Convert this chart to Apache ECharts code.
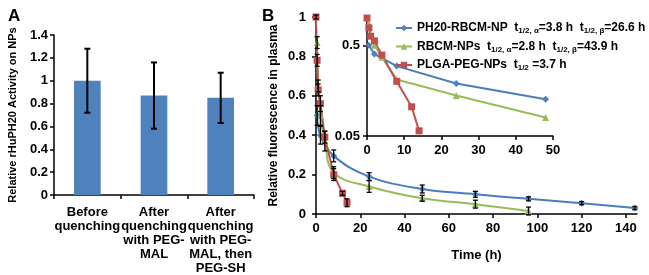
<!DOCTYPE html>
<html>
<head>
<meta charset="utf-8">
<script src="https://cdn.jsdelivr.net/npm/echarts@6/dist/echarts.min.js"></script>
<style>
html, body { margin: 0; padding: 0; background: #fff; }
#chart { width: 649px; height: 275px; }
</style>
</head>
<body>
<div id="chart"></div>
<script>
// panel A
var barCats = ['Before\nquenching', 'After\nquenching\nwith PEG-\nMAL', 'After\nquenching\nwith PEG-\nMAL, then\nPEG-SH'];
var barVals = [1.0, 0.87, 0.85];
var barErr = [0.28, 0.29, 0.22];

// panel B (time in h, relative fluorescence)
var blueT = [0.5, 2, 8, 24, 48, 72, 96, 120, 144];
var blueY = [0.5, 0.4, 0.295, 0.19, 0.127, 0.1, 0.077, 0.055, 0.03];
var blueE = [0.05, 0.045, 0.03, 0.02, 0.02, 0.015, 0.01, 0.008, 0.008];
var greenT = [0.5, 1, 2, 4, 8, 24, 48, 72, 96];
var greenY = [0.87, 0.65, 0.5, 0.37, 0.21, 0.14, 0.08, 0.05, 0.015];
var greenE = [0.03, 0.03, 0.05, 0.05, 0.03, 0.03, 0.015, 0.02, 0.02];
var redT = [0, 0.5, 1, 2, 4, 8, 12, 14];
var redY = [1, 0.78, 0.63, 0.56, 0.39, 0.2, 0.105, 0.057];
var redE = [0.01, 0.03, 0.03, 0.04, 0.03, 0.03, 0.01, 0.02];
var insetTicks = [0.05, 0.5];

var names = ['PH20-RBCM-NP', 'RBCM-NPs', 'PLGA-PEG-NPs'];
var legendText = {
    'PH20-RBCM-NP': 'PH20-RBCM-NP  t{s|1/2, α}=3.8 h  t{s|1/2, β}=26.6 h',
    'RBCM-NPs': 'RBCM-NPs  t{s|1/2, α}=2.8 h  t{s|1/2, β}=43.9 h',
    'PLGA-PEG-NPs': 'PLGA-PEG-NPs  t{s|1/2} =3.7 h'
};

var font = 'Arial, "Liberation Sans", sans-serif';
var blue = '#4A7EBB', green = '#9BBB59', red = '#C0504D';

var chart = echarts.init(document.getElementById('chart'));

function pairs(t, y) {
    return t.map(function (x, i) { return [x, y[i]]; });
}
function errs(t, y, e) {
    return t.map(function (x, i) { return [x, y[i] - e[i], y[i] + e[i]]; });
}
// draws a vertical error bar with caps
function errBar(half, width) {
    return function (params, api) {
        var x = api.value(0);
        var top = api.coord([x, api.value(2)]);
        var bot = api.coord([x, api.value(1)]);
        var st = { stroke: '#000', lineWidth: width };
        return {
            type: 'group',
            children: [
                { type: 'line', shape: { x1: top[0], y1: top[1], x2: bot[0], y2: bot[1] }, style: st },
                { type: 'line', shape: { x1: top[0] - half, y1: top[1], x2: top[0] + half, y2: top[1] }, style: st },
                { type: 'line', shape: { x1: bot[0] - half, y1: bot[1], x2: bot[0] + half, y2: bot[1] }, style: st }
            ]
        };
    };
}

var lbl = { color: '#000', fontWeight: 'bold', fontSize: 13, fontFamily: font };
var axLine = { lineStyle: { color: '#000', width: 1.5 } };
var ticks = { show: true, inside: false, length: 4, lineStyle: { color: '#000', width: 1.5 } };

option = {
    backgroundColor: '#fff',
    animation: false,
    textStyle: { fontFamily: font },
    title: [
        { text: 'A', left: 3, top: 3, textStyle: { fontSize: 17, fontWeight: 'bold', color: '#000', fontFamily: font } },
        { text: 'B', left: 257, top: 3, textStyle: { fontSize: 17, fontWeight: 'bold', color: '#000', fontFamily: font } }
    ],
    legend: {
        data: names,
        orient: 'vertical',
        left: 390,
        top: 15,
        itemGap: 2.5,
        itemWidth: 16,
        itemHeight: 8,
        formatter: function (n) { return legendText[n]; },
        textStyle: {
            color: '#000', fontWeight: 'bold', fontSize: 12, fontFamily: font, lineHeight: 16,
            rich: {
                s: { fontSize: 8, fontWeight: 'bold', fontFamily: font, color: '#000', padding: [6, 0, 0, 0] }
            }
        }
    },
    grid: [
        { left: 54, right: 395, top: 35, bottom: 80 },
        { left: 316, right: 12, top: 17, bottom: 61 },
        { left: 367, right: 96, top: 18, bottom: 139 }
    ],
    xAxis: [
        {
            gridIndex: 0, type: 'category', data: barCats,
            axisLine: axLine, axisTick: ticks,
            axisLabel: Object.assign({ interval: 0, margin: 10, lineHeight: 14 }, lbl)
        },
        {
            gridIndex: 1, type: 'value', min: 0, max: 145, interval: 20,
            name: 'Time (h)', nameLocation: 'middle', nameGap: 35,
            nameTextStyle: lbl,
            splitLine: { show: false },
            axisLine: axLine, axisTick: ticks,
            axisLabel: Object.assign({ margin: 8, showMaxLabel: false }, lbl)
        },
        {
            gridIndex: 2, type: 'value', min: 0, max: 50, interval: 10,
            splitLine: { show: false },
            axisLine: axLine, axisTick: ticks,
            axisLabel: Object.assign({ margin: 8 }, lbl)
        }
    ],
    yAxis: [
        {
            gridIndex: 0, type: 'value', min: 0, max: 1.4, interval: 0.2,
            name: 'Relative rHuPH20 Activity on NPs', nameLocation: 'middle', nameGap: 36,
            nameTextStyle: Object.assign({}, lbl, { fontSize: 11 }),
            splitLine: { show: false },
            axisLine: Object.assign({ show: true }, axLine), axisTick: ticks,
            axisLabel: Object.assign({ margin: 6 }, lbl)
        },
        {
            gridIndex: 1, type: 'value', min: 0, max: 1, interval: 0.2,
            name: 'Relative fluorescence in plasma', nameLocation: 'middle', nameGap: 36,
            nameTextStyle: Object.assign({}, lbl, { fontSize: 12 }),
            splitLine: { show: false },
            axisLine: Object.assign({ show: true }, axLine), axisTick: ticks,
            axisLabel: Object.assign({ margin: 10 }, lbl)
        },
        {
            gridIndex: 2, type: 'log', min: 0.05, max: 1,
            splitLine: { show: false },
            axisLine: Object.assign({ show: true }, axLine),
            axisTick: Object.assign({ customValues: insetTicks }, ticks),
            axisLabel: Object.assign({ margin: 7, customValues: insetTicks }, lbl)
        }
    ],
    series: [
        {
            type: 'bar', xAxisIndex: 0, yAxisIndex: 0, data: barVals,
            barWidth: '40%', itemStyle: { color: '#4F81BD' }
        },
        {
            type: 'custom', xAxisIndex: 0, yAxisIndex: 0, z: 5,
            renderItem: errBar(3, 2),
            data: barVals.map(function (v, i) { return [i, v - barErr[i], v + barErr[i]]; })
        },
        // main panel B
        {
            name: names[0], type: 'line', xAxisIndex: 1, yAxisIndex: 1, data: pairs(blueT, blueY),
            smooth: 0.4, symbol: 'diamond', symbolSize: 7, color: blue,
            lineStyle: { width: 2, color: blue }, itemStyle: { color: '#4F81BD' }
        },
        {
            name: names[1], type: 'line', xAxisIndex: 1, yAxisIndex: 1, data: pairs(greenT, greenY),
            smooth: 0.4, symbol: 'triangle', symbolSize: 7, color: green,
            lineStyle: { width: 2, color: green }, itemStyle: { color: green }
        },
        {
            name: names[2], type: 'line', xAxisIndex: 1, yAxisIndex: 1, data: pairs(redT, redY),
            symbol: 'rect', symbolSize: 7, color: red,
            lineStyle: { width: 2, color: red }, itemStyle: { color: red }
        },
        { type: 'custom', xAxisIndex: 1, yAxisIndex: 1, z: 5, renderItem: errBar(2.5, 1.3), data: errs(blueT, blueY, blueE) },
        { type: 'custom', xAxisIndex: 1, yAxisIndex: 1, z: 5, renderItem: errBar(2.5, 1.3), data: errs(greenT, greenY, greenE) },
        { type: 'custom', xAxisIndex: 1, yAxisIndex: 1, z: 5, renderItem: errBar(2.5, 1.3), data: errs(redT, redY, redE) },
        // inset (log scale)
        {
            name: names[0], type: 'line', xAxisIndex: 2, yAxisIndex: 2,
            data: pairs(blueT, blueY).filter(function (p) { return p[0] <= 50; }),
            symbol: 'diamond', symbolSize: 7, color: blue,
            lineStyle: { width: 2, color: blue }, itemStyle: { color: '#4F81BD' }
        },
        {
            name: names[1], type: 'line', xAxisIndex: 2, yAxisIndex: 2,
            data: pairs(greenT, greenY).filter(function (p) { return p[0] <= 50; }),
            symbol: 'triangle', symbolSize: 7, color: green,
            lineStyle: { width: 2, color: green }, itemStyle: { color: green }
        },
        {
            name: names[2], type: 'line', xAxisIndex: 2, yAxisIndex: 2, data: pairs(redT, redY),
            symbol: 'rect', symbolSize: 7, color: red,
            lineStyle: { width: 2, color: red }, itemStyle: { color: red }
        }
    ]
};

chart.setOption(option);
</script>
</body>
</html>
